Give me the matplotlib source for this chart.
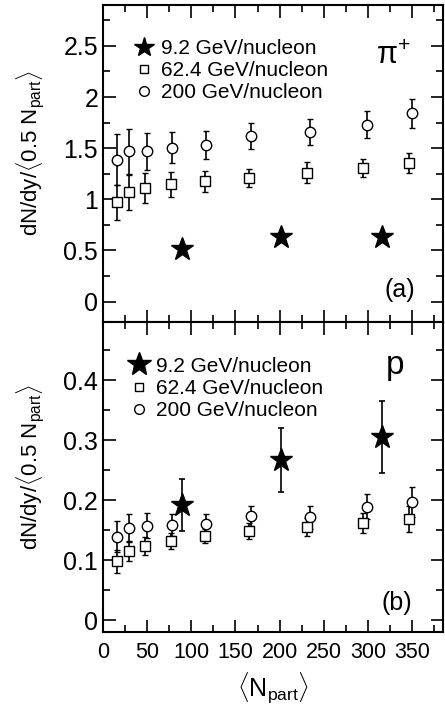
import numpy as np
import matplotlib.pyplot as plt
from matplotlib.lines import Line2D
from matplotlib.ticker import MultipleLocator, FormatStrFormatter

plt.rcParams['font.family'] = ['Liberation Sans', 'DejaVu Sans']
plt.rcParams['mathtext.fontset'] = 'custom'
plt.rcParams['mathtext.rm'] = 'Liberation Sans'
plt.rcParams['mathtext.it'] = 'Liberation Sans:italic'
plt.rcParams['mathtext.bf'] = 'Liberation Sans:bold'

# <Npart> for each energy
npart_200 = [16, 29, 50, 78, 117, 168, 234, 299, 350]
npart_62 = [16, 29, 48, 77, 115, 165, 231, 294, 346]
npart_9 = [90, 201, 316]

# pi+ yields per participant pair
pip_200 = [1.385, 1.47, 1.47, 1.505, 1.53, 1.62, 1.66, 1.73, 1.84]
pip_200_err = [0.25, 0.22, 0.18, 0.15, 0.135, 0.13, 0.13, 0.135, 0.145]
pip_62 = [0.97, 1.07, 1.11, 1.145, 1.175, 1.21, 1.26, 1.305, 1.355]
pip_62_err = [0.17, 0.17, 0.15, 0.12, 0.105, 0.09, 0.10, 0.085, 0.095]
pip_9 = [0.515, 0.63, 0.63]
pip_9_err = [0.03, 0.045, 0.02]

# proton yields per participant pair
p_200 = [0.139, 0.153, 0.157, 0.158, 0.160, 0.173, 0.171, 0.189, 0.197]
p_200_err = [0.026, 0.023, 0.021, 0.018, 0.016, 0.017, 0.019, 0.021, 0.025]
p_62 = [0.098, 0.115, 0.123, 0.132, 0.1405, 0.148, 0.155, 0.162, 0.168]
p_62_err = [0.019, 0.017, 0.015, 0.013, 0.012, 0.013, 0.0145, 0.0165, 0.022]
p_9 = [0.192, 0.267, 0.3045]
p_9_err = [0.043, 0.053, 0.06]

labels = ['9.2 GeV/nucleon', '62.4 GeV/nucleon', '200 GeV/nucleon']
ylab = r'dN/dy/$\langle\mathrm{0.5\ N_{part}}\rangle$'

fig = plt.figure(figsize=(4.45, 7.06), dpi=100)
ax1 = fig.add_axes([0.2315, 0.5439, 0.764, 0.449])
ax2 = fig.add_axes([0.2315, 0.1048, 0.764, 0.4391])


def draw(ax, y200, e200, y62, e62, y9, e9, anchor, star_ms):
    ax.errorbar(npart_200, y200, yerr=e200, fmt='o', ms=7.5, mfc='white',
                mec='black', mew=1.0, ecolor='black', elinewidth=1.2,
                capsize=2.5, capthick=1.2, zorder=3)
    ax.errorbar(npart_62, y62, yerr=e62, fmt='s', ms=7, mfc='white',
                mec='black', mew=1.0, ecolor='black', elinewidth=1.2,
                capsize=2.5, capthick=1.2, zorder=3)
    ax.errorbar(npart_9, y9, yerr=e9, fmt='*', ms=17, mfc='black',
                mec='black', ecolor='black', elinewidth=1.2,
                capsize=2.5, capthick=1.2, zorder=4)
    handles = [Line2D([], [], ls='none', marker='*', ms=star_ms, color='black'),
               Line2D([], [], ls='none', marker='s', ms=6, mfc='white', mec='black'),
               Line2D([], [], ls='none', marker='o', ms=7, mfc='white', mec='black')]
    ax.legend(handles, labels, loc='upper left', bbox_to_anchor=anchor,
              frameon=False, fontsize=15, handlelength=0.8, handletextpad=0.4,
              labelspacing=0.15, borderaxespad=0.6)
    ax.set_xlim(0, 385)
    ax.xaxis.set_major_locator(MultipleLocator(50))
    ax.xaxis.set_minor_locator(MultipleLocator(25))
    ax.tick_params(which='both', direction='in', top=True, right=True,
                   width=1.2)
    ax.tick_params(axis='y', labelsize=18)
    ax.tick_params(axis='x', labelsize=15.5, pad=7)
    ax.tick_params(which='major', length=9)
    ax.tick_params(which='minor', length=5)
    ax.yaxis.set_major_formatter(FormatStrFormatter('%g'))
    for s in ax.spines.values():
        s.set_linewidth(1.5)
    ax.set_ylabel(ylab, fontsize=16)
    ax.yaxis.set_label_coords(-0.165, 0.532)


draw(ax1, pip_200, pip_200_err, pip_62, pip_62_err, pip_9, pip_9_err,
     (0.035, 0.958), 15)
ax1.set_ylim(-0.2, 2.9)
ax1.yaxis.set_major_locator(MultipleLocator(0.5))
ax1.yaxis.set_minor_locator(MultipleLocator(0.25))
ax1.tick_params(labelbottom=False)
ax1.text(0.905, 0.84, r'$\mathrm{\pi}^{+}$', transform=ax1.transAxes,
         ha='right', va='center', fontsize=22)
ax1.text(0.918, 0.10, '(a)', transform=ax1.transAxes, ha='right',
         va='center', fontsize=18)

draw(ax2, p_200, p_200_err, p_62, p_62_err, p_9, p_9_err,
     (0.02, 0.955), 18)
ax2.set_ylim(-0.02, 0.497)
ax2.yaxis.set_major_locator(MultipleLocator(0.1))
ax2.yaxis.set_minor_locator(MultipleLocator(0.05))
ax2.text(0.86, 0.86, 'p', transform=ax2.transAxes, ha='center',
         va='center', fontsize=24)
ax2.text(0.91, 0.094, '(b)', transform=ax2.transAxes, ha='right',
         va='center', fontsize=18)
ax2.set_xlabel(r'$\langle\mathrm{N_{part}}\rangle$', fontsize=18, labelpad=6)

fig.savefig('out.png', dpi=100)
